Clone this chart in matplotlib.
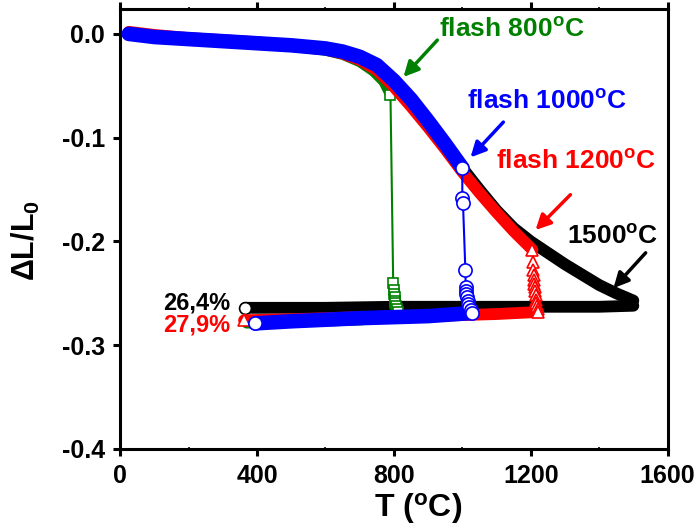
import numpy as np
import matplotlib
matplotlib.use('Agg')
import matplotlib.pyplot as plt

plt.rcParams['font.family'] = ['Liberation Sans', 'DejaVu Sans']
plt.rcParams['font.weight'] = 'bold'
plt.rcParams['mathtext.fontset'] = 'custom'
plt.rcParams['mathtext.rm'] = 'Liberation Sans:bold'
plt.rcParams['mathtext.it'] = 'Liberation Sans:bold'
plt.rcParams['mathtext.bf'] = 'Liberation Sans:bold'

# ---- data ----
# heating (dense part) of each run
T_heat_blue = [25, 100, 200, 300, 400, 500, 600, 650, 700, 750, 800, 850, 900, 950, 1000]
dL_heat_blue = [0.000, -0.003, -0.005, -0.007, -0.009, -0.011, -0.014, -0.017, -0.022,
                -0.030, -0.045, -0.063, -0.084, -0.106, -0.129]

T_heat_red = [25, 100, 200, 300, 400, 500, 600, 650, 700, 750, 800, 850, 900, 950,
              1000, 1050, 1100, 1150, 1205]
dL_heat_red = [0.002, -0.001, -0.004, -0.006, -0.008, -0.011, -0.015, -0.019, -0.025,
               -0.035, -0.051, -0.070, -0.090, -0.111, -0.133, -0.153, -0.172, -0.190, -0.208]

T_heat_green = [25, 100, 200, 300, 400, 500, 600, 650, 700, 740, 770, 790]
dL_heat_green = [0.001, -0.002, -0.005, -0.007, -0.009, -0.012, -0.016, -0.020, -0.027,
                 -0.036, -0.046, -0.059]

T_heat_black = [25, 100, 200, 300, 400, 500, 600, 650, 700, 750, 800, 850, 900, 950,
                1000, 1050, 1100, 1150, 1200, 1250, 1300, 1350, 1400, 1450, 1500]
dL_heat_black = [0.001, -0.002, -0.005, -0.007, -0.009, -0.011, -0.014, -0.017, -0.022,
                 -0.031, -0.046, -0.064, -0.085, -0.106, -0.129, -0.150, -0.170, -0.187,
                 -0.200, -0.211, -0.222, -0.232, -0.242, -0.250, -0.257]

# flash / shrinkage drop (sparse points)
T_drop_green = [790, 798, 800, 801, 802, 803, 804, 806, 808, 811]
dL_drop_green = [-0.059, -0.240, -0.247, -0.251, -0.254, -0.257, -0.259, -0.262, -0.265, -0.268]

T_drop_blue = [1000, 1000, 1002, 1009, 1010, 1011, 1012, 1014, 1016, 1018, 1020, 1024, 1028]
dL_drop_blue = [-0.129, -0.158, -0.163, -0.228, -0.244, -0.248, -0.251, -0.254, -0.257,
                -0.260, -0.263, -0.266, -0.269]

T_drop_red = [1205, 1207, 1208, 1209, 1210, 1211, 1212, 1213, 1214, 1215, 1216, 1218, 1220, 1222]
dL_drop_red = [-0.208, -0.220, -0.228, -0.232, -0.237, -0.241, -0.244, -0.248, -0.252,
               -0.256, -0.259, -0.262, -0.265, -0.268]

# cooling (dense part)
T_cool_black = [1500, 1400, 1200, 1000, 800, 600, 366]
dL_cool_black = [-0.262, -0.263, -0.263, -0.263, -0.263, -0.264, -0.264]

T_cool_red = [1222, 1100, 900, 700, 500, 362]
dL_cool_red = [-0.268, -0.270, -0.272, -0.273, -0.275, -0.276]

T_cool_green = [811, 700, 600, 500, 370]
dL_cool_green = [-0.272, -0.276, -0.277, -0.278, -0.279]

T_cool_blue = [1028, 900, 700, 500, 395]
dL_cool_blue = [-0.269, -0.272, -0.274, -0.277, -0.279]

green = '#008000'
blue = '#0000ff'
red = '#ff0000'
black = '#000000'

fig = plt.figure(figsize=(6.99, 5.30), dpi=100)
ax = fig.add_axes([0.172, 0.153, 0.783, 0.830])


def band(T, dL, color, lw, z):
    ax.plot(T, dL, color=color, lw=lw, solid_capstyle='round', solid_joinstyle='round', zorder=z)


# black run (1500)
band(T_heat_black, dL_heat_black, black, 8.5, 1)
band(T_cool_black, dL_cool_black, black, 8.5, 1)
ax.plot(T_cool_black[-1], dL_cool_black[-1], 'o', ms=8.5, mfc='white', mec=black, mew=1.2, zorder=1.5)

# green run (800)
band(T_heat_green, dL_heat_green, green, 7.5, 2)
band(T_cool_green, dL_cool_green, green, 7.5, 2)
ax.plot(T_drop_green, dL_drop_green, '-s', color=green, lw=1.5, ms=7.5, mfc='white', mec=green,
        mew=1.2, zorder=2.5)

# red run (1200)
band(T_heat_red, dL_heat_red, red, 8.5, 3)
band(T_cool_red, dL_cool_red, red, 8.5, 3)
ax.plot(T_drop_red, dL_drop_red, '^', ms=9, mfc='white', mec=red, mew=1.2, zorder=3.5)
ax.plot(T_cool_red[-1], dL_cool_red[-1], '^', ms=9, mfc='white', mec=red, mew=1.2, zorder=3.5)

# blue run (1000)
band(T_heat_blue, dL_heat_blue, blue, 10.5, 4)
band(T_cool_blue, dL_cool_blue, blue, 10.5, 4)
ax.plot(T_drop_blue, dL_drop_blue, '-o', color=blue, lw=1.5, ms=9.5, mfc='white', mec=blue,
        mew=1.2, zorder=4.5)
ax.plot(T_cool_blue[-1], dL_cool_blue[-1], 'o', ms=9.5, mfc='white', mec=blue, mew=1.2, zorder=4.5)

# annotations
def note(text, xy, xytext, tx, ty, color, ha='left'):
    ax.annotate('', xy=xy, xytext=xytext,
                arrowprops=dict(arrowstyle='-|>,head_length=0.9,head_width=0.45', color=color,
                                lw=2.5, shrinkA=0, shrinkB=0), zorder=6)
    ax.text(tx, ty, text, color=color, fontsize=19, fontweight='bold', ha=ha, va='center', zorder=6)


note(r'flash 800$^\mathrm{o}$C', (828, -0.0415), (927, -0.006), 932, 0.004, green)
note(r'flash 1000$^\mathrm{o}$C', (1024, -0.119), (1120, -0.085), 1014, -0.065, blue)
note(r'flash 1200$^\mathrm{o}$C', (1214, -0.189), (1316, -0.155), 1098, -0.123, red)
note(r'1500$^\mathrm{o}$C', (1442, -0.245), (1536, -0.211), 1306, -0.196, black)

ax.text(322, -0.259, '26,4%', color=black, fontsize=17, fontweight='bold', ha='right', va='center')
ax.text(322, -0.281, '27,9%', color=red, fontsize=17, fontweight='bold', ha='right', va='center')

ax.set_xlim(0, 1600)
ax.set_ylim(-0.4, 0.024)
ax.set_xticks([0, 400, 800, 1200, 1600])
ax.set_xticks([200, 600, 1000, 1400], minor=True)
ax.set_yticks([0.0, -0.1, -0.2, -0.3, -0.4])
ax.set_yticklabels(['0.0', '-0.1', '-0.2', '-0.3', '-0.4'])

for s in ax.spines.values():
    s.set_linewidth(2.2)
ax.tick_params(axis='both', which='major', direction='out', length=5, width=2.2,
               labelsize=18)
ax.tick_params(axis='y', which='major', pad=6)
ax.tick_params(axis='x', which='major', pad=6)
ax.tick_params(axis='x', which='minor', direction='inout', length=3, width=1.2, top=True)
ax.tick_params(axis='x', which='major', top=True)
for lab in ax.get_xticklabels() + ax.get_yticklabels():
    lab.set_fontweight('bold')

ax.set_xlabel(r'T ($^\mathrm{o}$C)', fontsize=23, fontweight='bold')
ax.set_ylabel(r'ΔL/L$_\mathrm{0}$', fontsize=22, fontweight='bold')
ax.xaxis.set_label_coords(0.545, -0.095)
ax.yaxis.set_label_coords(-0.143, 0.473)

fig.savefig('out.png', dpi=100)
